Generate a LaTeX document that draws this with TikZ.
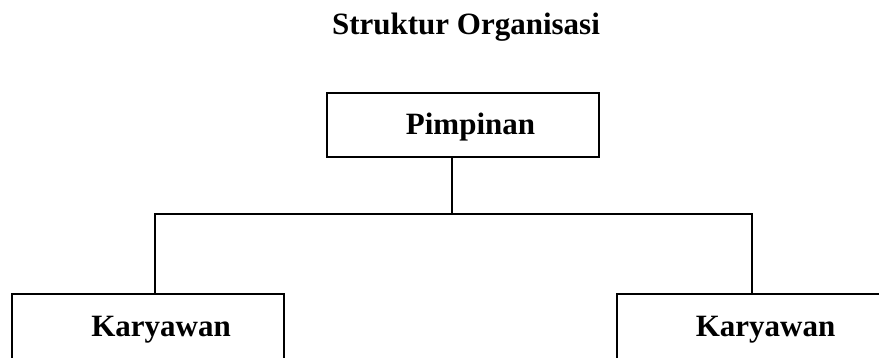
\documentclass[tikz,border=0pt]{standalone}
\usepackage{fontspec}
\setmainfont{Liberation Serif}
\usepackage{tikz}
\tikzset{
  every picture/.style={font={\bfseries\fontsize{31}{36}\selectfont}}}

\begin{document}
\begin{tikzpicture}[x=1pt, y=-1pt,
    orgBox/.style={
      draw, line width=2pt,
      rectangle, inner sep=0pt,
      minimum width=272pt},
    orgLine/.style={line width=2pt}]

    \useasboundingbox (0,0) rectangle (879,358);
    \clip (0,0) rectangle (879,358);

    \node (judul) at (466,27) {Struktur Organisasi};

    \node[orgBox, minimum height=64pt] (pimpinan) at (462.5,125)
      [label={[anchor=base, xshift=8pt, yshift=-2pt]center:Pimpinan}] {};

    \node[orgBox, minimum height=110pt] (kiri) at (148,349)
      [label={[anchor=base, xshift=13pt, yshift=19pt]center:Karyawan}] {};
    \node[orgBox, minimum height=110pt] (kanan) at (752.5,349)
      [label={[anchor=base, xshift=13pt, yshift=19pt]center:Karyawan}] {};

    \coordinate (hub) at (452,214);
    \coordinate (cabangKiri) at (155,214);
    \coordinate (cabangKanan) at (752,214);

    \draw[orgLine] (hub |- pimpinan.south) -- (hub);
    \draw[orgLine] (cabangKiri |- kiri.north) -- (cabangKiri)
      -- (cabangKanan) -- (cabangKanan |- kanan.north);
  \end{tikzpicture}
\end{document}
